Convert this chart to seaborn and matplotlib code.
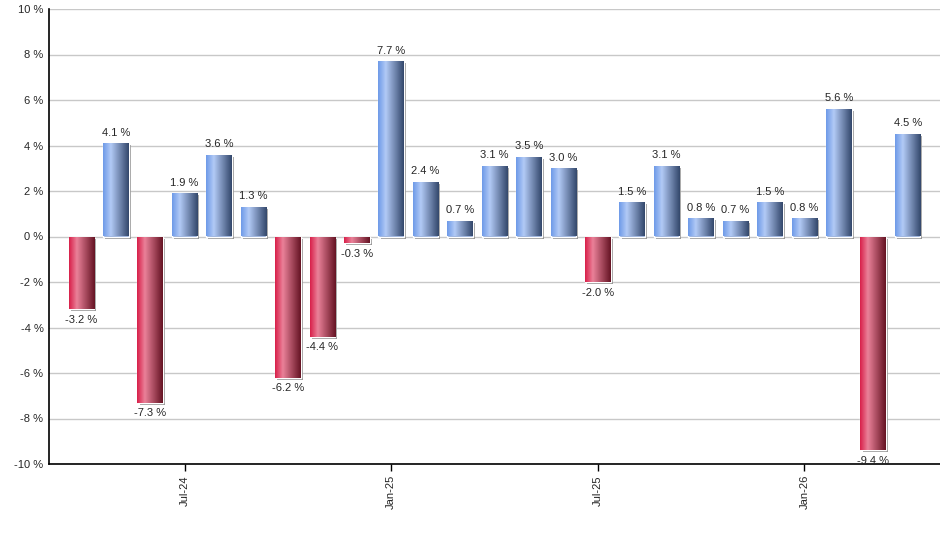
import numpy as np
import pandas as pd
import matplotlib
matplotlib.use("Agg")
import matplotlib.pyplot as plt
import matplotlib.patheffects as pe
from matplotlib.colors import LinearSegmentedColormap
import seaborn as sns

# monthly returns, Apr-24 .. Apr-26
months = pd.date_range("2024-04-01", "2026-04-01", freq="MS").strftime("%b-%y").tolist()
values = [-3.2, 4.1, -7.3, 1.9, 3.6, 1.3, -6.2, -4.4, -0.3, 7.7, 2.4, 0.7, 3.1,
          3.5, 3.0, -2.0, 1.5, 3.1, 0.8, 0.7, 1.5, 0.8, 5.6, -9.4, 4.5]
tick_months = ["Jul-24", "Jan-25", "Jul-25", "Jan-26"]

df = pd.DataFrame({"month": months, "value": values})
df["sign"] = np.where(df["value"] >= 0, "up", "down")

sns.set_style("white")
plt.rcParams["font.family"] = ["Liberation Sans", "DejaVu Sans"]

fig = plt.figure(figsize=(9.4, 5.5), dpi=100)
ax = fig.add_axes([49 / 940, 1 - 464 / 550, 1 - 49 / 940, (464 - 9) / 550])

sns.barplot(data=df, x="month", y="value", hue="sign", dodge=False, width=0.74,
            palette={"up": "#7fa3e6", "down": "#d9345a"}, legend=False, ax=ax,
            zorder=3)

# glossy cylinder-like gradients
blue = LinearSegmentedColormap.from_list("b", [(0, "#6e9ae8"), (0.3, "#b2caf6"), (1, "#34486c")])
red = LinearSegmentedColormap.from_list("r", [(0, "#d8204a"), (0.3, "#ea8199"), (1, "#661424")])
grad = np.linspace(0, 1, 64).reshape(1, -1)

for p in ax.patches:
    x, y = p.get_x(), p.get_y()
    w, h = p.get_width(), p.get_height()
    if w == 0 or h == 0:
        continue
    cmap = blue if (y + h) > 0 and y >= 0 else red
    p.set_path_effects([pe.SimplePatchShadow(offset=(1.5, -1.5), shadow_rgbFace="#808080", alpha=0.8),
                        pe.Normal()])
    im = ax.imshow(grad, cmap=cmap, extent=[x, x + w, min(y, y + h), max(y, y + h)],
                   aspect="auto", zorder=4, interpolation="bilinear")
    im.set_clip_path(p)

# value labels
for i, v in enumerate(values):
    if v >= 0:
        ax.text(i, v + 0.25, f"{v:.1f} %", ha="center", va="bottom", fontsize=8, zorder=5)
    else:
        ax.text(i, v - 0.25, f"{v:.1f} %", ha="center", va="top", fontsize=8, zorder=5)

ax.set_xlim(-0.94, 24.94)
ax.set_ylim(-10, 10)
ax.set_yticks(range(-10, 11, 2))
ax.set_yticklabels([f"{t} %" for t in range(-10, 11, 2)], fontsize=8)
ax.set_xticks([months.index(m) for m in tick_months])
ax.set_xticklabels(tick_months, rotation=90, fontsize=8)
ax.tick_params(axis="x", length=5, width=1, color="black", pad=3, bottom=True)
ax.tick_params(axis="y", length=0, pad=4)
ax.set_xlabel("")
ax.set_ylabel("")

ax.grid(axis="y", color="#c8c8c8", linewidth=1, zorder=0)
ax.set_axisbelow(True)
for s in ["top", "right"]:
    ax.spines[s].set_visible(False)
for s in ["left", "bottom"]:
    ax.spines[s].set_color("black")
    ax.spines[s].set_linewidth(1.2)

fig.savefig("out.png", dpi=100)
